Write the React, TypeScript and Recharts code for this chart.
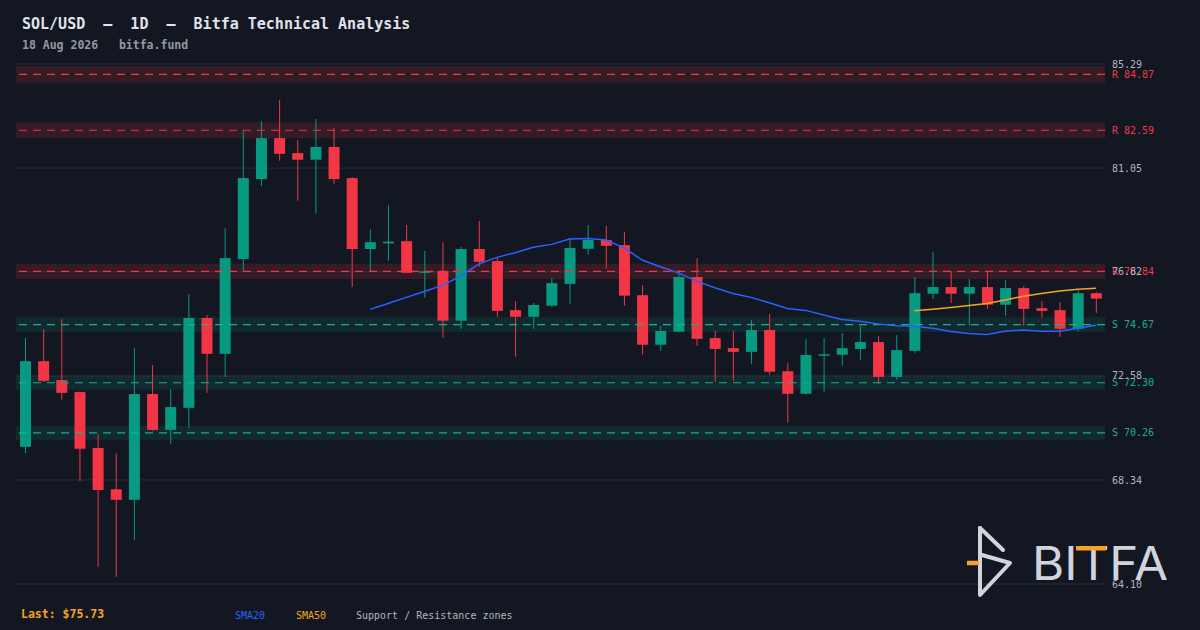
import React from "react";
import {
  ComposedChart,
  Bar,
  Line,
  XAxis,
  YAxis,
  CartesianGrid,
  ReferenceArea,
  ReferenceLine,
} from "recharts";

// ---- data ----
const opens = [
  69.69, 73.18, 72.41, 71.92, 69.64, 67.96, 67.53, 71.84, 70.38, 71.28,
  74.94, 73.48, 77.34, 80.6, 82.27, 81.66, 81.39, 81.91, 80.64, 77.75,
  77.98, 78.07, 76.8, 76.85, 74.83, 77.75, 77.26, 75.26, 74.99, 75.44,
  76.33, 77.76, 78.12, 77.91, 75.87, 73.85, 74.38, 76.61, 74.12, 73.71,
  73.56, 74.45, 72.77, 71.85, 73.42, 73.44, 73.68, 73.96, 72.54, 73.6,
  75.93, 76.2, 75.93, 76.2, 75.48, 76.16, 75.34, 75.26, 74.5, 75.95,
];
const highs = [
  74.12, 74.49, 74.89, 71.95, 70.21, 69.43, 73.71, 73.02, 72.04, 75.91,
  75.06, 78.6, 82.6, 82.97, 83.82, 82.19, 83.05, 82.68, 80.68, 78.56,
  79.54, 78.73, 77.67, 78.03, 77.83, 78.89, 77.42, 75.63, 75.55, 76.57,
  78.2, 78.73, 78.69, 78.44, 76.28, 74.62, 76.89, 77.38, 74.41, 74.41,
  74.85, 75.1, 73.1, 74.08, 74.12, 74.33, 74.61, 74.2, 74.24, 76.61,
  77.63, 76.83, 76.53, 76.83, 76.48, 76.24, 75.63, 75.59, 76.12, 75.99,
];
const lows = [
  69.44, 72.33, 71.61, 68.3, 64.8, 64.39, 65.9, 70.34, 69.81, 70.46,
  71.89, 72.54, 76.85, 80.32, 81.35, 79.72, 79.19, 80.41, 76.21, 76.84,
  77.27, 76.76, 75.77, 74.13, 74.5, 77.03, 74.99, 73.36, 74.5, 75.4,
  75.52, 77.52, 76.95, 75.44, 73.44, 73.6, 74.35, 73.81, 72.34, 72.38,
  73.07, 72.62, 70.67, 71.83, 71.93, 72.99, 73.24, 72.26, 72.42, 73.52,
  75.71, 75.55, 74.62, 75.31, 75.03, 74.62, 74.95, 74.17, 74.38, 75.15,
];
const closes = [
  73.18, 72.38, 71.89, 69.61, 67.93, 67.53, 71.84, 70.38, 71.31, 74.94,
  73.48, 77.38, 80.64, 82.27, 81.63, 81.39, 81.91, 80.6, 77.75, 78.03,
  78.05, 76.78, 76.84, 74.83, 77.75, 77.23, 75.23, 74.99, 75.47, 76.36,
  77.79, 78.12, 77.88, 75.85, 73.85, 74.41, 76.61, 74.09, 73.68, 73.56,
  74.45, 72.75, 71.85, 73.43, 73.46, 73.71, 73.96, 72.54, 73.63, 75.95,
  76.2, 75.93, 76.2, 75.48, 76.16, 75.31, 75.23, 74.5, 75.95, 75.73,
];
// SMA20 starts at candle 20, SMA50 at candle 50
const sma20Values = [
  75.29, 75.53, 75.78, 76.02, 76.27, 76.65, 77.14, 77.41, 77.6, 77.82,
  77.94, 78.16, 78.18, 78.12, 77.8, 77.3, 77.03, 76.78, 76.44, 76.17,
  75.94, 75.78, 75.56, 75.33, 75.25, 75.06, 74.88, 74.81, 74.7, 74.62,
  74.6, 74.52, 74.39, 74.31, 74.27, 74.4, 74.45, 74.4, 74.4, 74.52, 74.64,
];
const sma50Values = [
  75.23, 75.3, 75.37, 75.45, 75.53, 75.67, 75.83, 75.94, 76.04, 76.11, 76.15,
];
const resistanceLevels = [84.87, 82.59, 76.84];
const supportLevels = [74.67, 72.3, 70.26];
const yTicks = [64.1, 68.34, 72.58, 76.82, 81.05, 85.29];
const yDomain = [64.1, 85.29];
const lastPrice = 75.73;

// ---- styles ----
const BG = "#131722";
const GREEN = "#089981";
const RED = "#f23645";
const TEAL = "#22ab94";
const BLUE = "#2962ff";
const ORANGE = "#f7a325";
const MONO = "'DejaVu Sans Mono', 'Liberation Mono', monospace";
const ZONE_PCT = 0.004;

const n = opens.length;
const data = opens.map((o, i) => ({
  i,
  o,
  h: highs[i],
  l: lows[i],
  c: closes[i],
  range: [lows[i], highs[i]],
  sma20: i >= n - sma20Values.length ? sma20Values[i - (n - sma20Values.length)] : null,
  sma50: i >= n - sma50Values.length ? sma50Values[i - (n - sma50Values.length)] : null,
}));

const Candle = (props: any) => {
  const { x, y, width, height, payload } = props;
  if (x == null || y == null || !payload) return null;
  const top = Math.min(y, y + height);
  const hh = Math.abs(height);
  const { o, h, l, c } = payload;
  const ppu = h - l > 0 ? hh / (h - l) : 0;
  const yOf = (v: number) => top + (h - v) * ppu;
  const cx = x + width / 2;
  const color = c >= o ? GREEN : RED;
  const bTop = yOf(Math.max(o, c));
  let bH = yOf(Math.min(o, c)) - bTop;
  if (bH < 1.5) bH = 1.5;
  return (
    <g>
      <line x1={cx} x2={cx} y1={top} y2={top + hh} stroke={color} strokeWidth={1} />
      <rect x={x} y={bTop} width={width} height={bH} fill={color} />
    </g>
  );
};

const makeLabel = (text: string, color: string) => (p: any) => {
  const vb = p.viewBox || {};
  return (
    <text
      x={vb.x + vb.width + 7}
      y={vb.y}
      dy="0.355em"
      fill={color}
      fontSize={10}
      fontFamily={MONO}
      textAnchor="start"
    >
      {text}
    </text>
  );
};

export default function App() {
  return (
    <div
      style={{
        position: "fixed",
        left: 0,
        top: 0,
        width: 1200,
        height: 630,
        background: BG,
        overflow: "hidden",
      }}
    >
      <div style={{ position: "absolute", left: 0, top: 0 }}>
        <ComposedChart
          width={1200}
          height={630}
          data={data}
          margin={{ top: 64, right: 35, bottom: 46, left: 16 }}
        >
          <CartesianGrid stroke="#2a2e39" vertical={false} horizontal={true} />
          <XAxis dataKey="i" type="category" hide />
          <YAxis
            orientation="right"
            domain={yDomain}
            ticks={yTicks}
            allowDataOverflow
            width={60}
            axisLine={false}
            tickLine={false}
            tickSize={0}
            tickMargin={7}
            tick={{ fill: "#b2b5be", fontSize: 10, fontFamily: MONO }}
            tickFormatter={(v: number) => v.toFixed(2)}
            interval={0}
          />
          {resistanceLevels.map((v) => (
            <ReferenceArea
              key={"ra" + v}
              y1={v * (1 - ZONE_PCT)}
              y2={v * (1 + ZONE_PCT)}
              fill={RED}
              fillOpacity={0.15}
              stroke="none"
              ifOverflow="extendDomain"
            />
          ))}
          {supportLevels.map((v) => (
            <ReferenceArea
              key={"sa" + v}
              y1={v * (1 - ZONE_PCT)}
              y2={v * (1 + ZONE_PCT)}
              fill={GREEN}
              fillOpacity={0.15}
              stroke="none"
            />
          ))}
          {resistanceLevels.map((v) => (
            <ReferenceLine
              key={"rl" + v}
              y={v}
              stroke={RED}
              strokeWidth={1.2}
              strokeDasharray="8 6"
              label={makeLabel("R " + v.toFixed(2), RED)}
            />
          ))}
          {supportLevels.map((v) => (
            <ReferenceLine
              key={"sl" + v}
              y={v}
              stroke={TEAL}
              strokeWidth={1.2}
              strokeDasharray="8 6"
              label={makeLabel("S " + v.toFixed(2), TEAL)}
            />
          ))}
          <Line
            dataKey="sma20"
            stroke={BLUE}
            strokeWidth={1.5}
            dot={false}
            activeDot={false}
            isAnimationActive={false}
            connectNulls={false}
            type="linear"
          />
          <Line
            dataKey="sma50"
            stroke={ORANGE}
            strokeWidth={1.5}
            dot={false}
            activeDot={false}
            isAnimationActive={false}
            connectNulls={false}
            type="linear"
          />
          <Bar
            dataKey="range"
            barSize={11}
            shape={Candle}
            isAnimationActive={false}
          />
        </ComposedChart>
      </div>
      <svg
        width={1200}
        height={630}
        style={{ position: "absolute", left: 0, top: 0, pointerEvents: "none" }}
      >
        <text x={22} y={29} fill="#e0e3eb" fontSize={15} fontWeight="bold" fontFamily={MONO} xmlSpace="preserve">
          {"SOL/USD  –  1D  –  Bitfa Technical Analysis"}
        </text>
        <text x={22} y={49} fill="#9598a1" fontSize={11.5} fontWeight="bold" fontFamily={MONO} xmlSpace="preserve">
          {"18 Aug 2026   bitfa.fund"}
        </text>
        <text x={21} y={618} fill={ORANGE} fontSize={11.5} fontWeight="bold" fontFamily={MONO}>
          {"Last: $" + lastPrice.toFixed(2)}
        </text>
        <text x={235} y={619} fill={BLUE} fontSize={10} fontFamily={MONO}>SMA20</text>
        <text x={296} y={619} fill={ORANGE} fontSize={10} fontFamily={MONO}>SMA50</text>
        <text x={356} y={619} fill="#b2b5be" fontSize={10} fontFamily={MONO}>
          Support / Resistance zones
        </text>
        {/* BITFA logo */}
        <g stroke="#d1d4dc" strokeWidth={4} fill="none" strokeLinecap="round" strokeLinejoin="round">
          <path d="M980,528 L980,595 L1010,563 L982,555" />
          <path d="M980,528 L1003,550" />
        </g>
        <line x1={967} x2={979} y1={563} y2={563} stroke={ORANGE} strokeWidth={4.5} />
        <text
          x={1032}
          y={580}
          fill="#d1d4dc"
          fontSize={46}
          fontFamily="Inter, 'Noto Sans', sans-serif"
          textLength={136}
          lengthAdjust="spacingAndGlyphs"
        >
          BITFA
        </text>
        <rect x={1076} y={546} width={30} height={4.5} fill={ORANGE} />
      </svg>
    </div>
  );
}
